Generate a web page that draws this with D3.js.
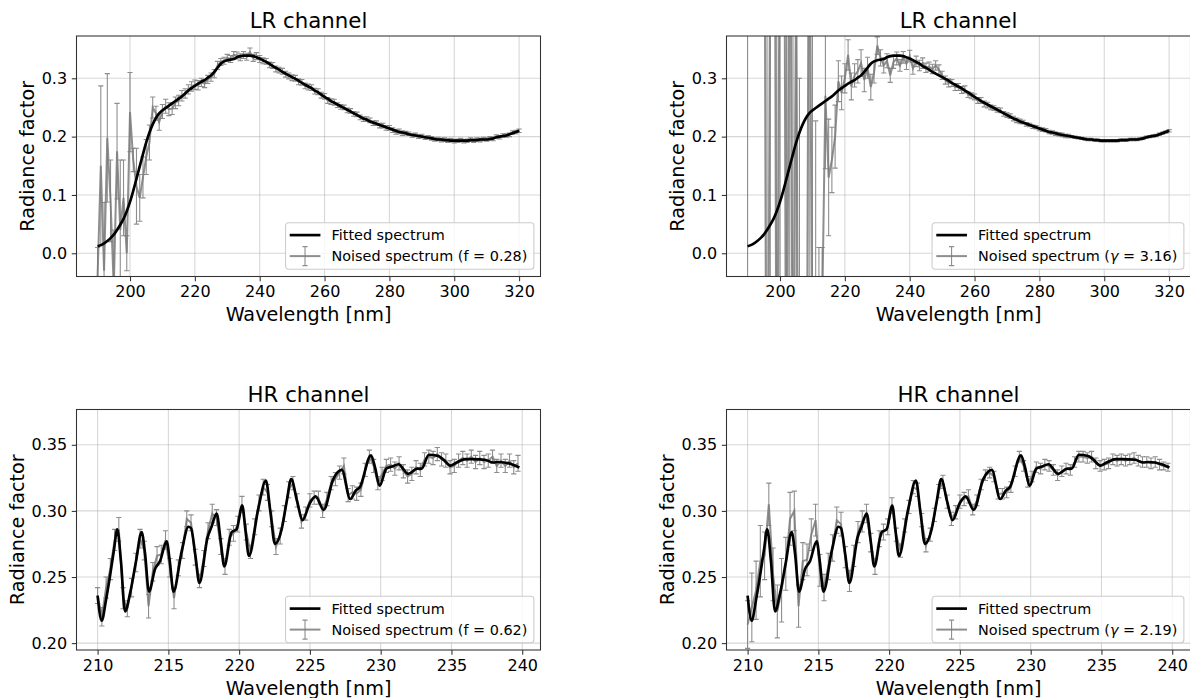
<!DOCTYPE html>
<html>
<head>
<meta charset="utf-8">
<script src="https://cdn.jsdelivr.net/npm/d3@7"></script>
<style>
  body { margin: 0; background: #fff; }
  svg { display: block; font-family: "DejaVu Sans", sans-serif; }
</style>
</head>
<body>
<svg id="fig" width="1190" height="698"></svg>
<script>
// ---------------- LR channel (1 nm sampling, 190–320 nm) ----------------
const lrWavelength = d3.range(190, 321);

const lrFitted = [
  0.012,0.014,0.017,0.021,0.026,0.032,0.040,0.049,0.059,0.072,
  0.088,0.107,0.128,0.149,0.170,0.190,0.207,0.221,0.232,0.240,
  0.245,0.249,0.253,0.257,0.261,0.265,0.269,0.274,0.279,0.283,
  0.287,0.291,0.294,0.297,0.301,0.305,0.311,0.318,0.325,0.329,
  0.331,0.332,0.333,0.336,0.338,0.339,0.339,0.339,0.338,0.336,
  0.334,0.331,0.328,0.325,0.321,0.318,0.315,0.311,0.308,0.305,
  0.302,0.299,0.296,0.292,0.289,0.286,0.283,0.279,0.276,0.272,
  0.268,0.265,0.261,0.258,0.255,0.252,0.249,0.246,0.243,0.240,
  0.237,0.234,0.231,0.229,0.226,0.224,0.222,0.220,0.218,0.216,
  0.214,0.212,0.210,0.208,0.207,0.206,0.204,0.203,0.202,0.201,
  0.200,0.199,0.198,0.197,0.196,0.195,0.195,0.194,0.194,0.193,
  0.193,0.193,0.193,0.193,0.193,0.194,0.194,0.194,0.195,0.195,
  0.195,0.196,0.197,0.199,0.200,0.201,0.202,0.204,0.206,0.208,
  0.210
];

// noised spectrum, f = 0.28
const lrNoisedF = [
  -0.040,0.150,-0.030,0.198,0.090,-0.060,0.175,0.040,0.095,0.000,
  0.242,0.160,0.115,0.095,0.130,0.165,0.190,0.250,0.240,0.225,
  0.243,0.252,0.247,0.248,0.258,0.262,0.270,0.274,0.281,0.286,
  0.289,0.288,0.293,0.291,0.298,0.302,0.308,0.322,0.328,0.330,
  0.335,0.333,0.340,0.339,0.336,0.340,0.337,0.345,0.335,0.338,
  0.333,0.330,0.329,0.323,0.322,0.316,0.314,0.312,0.307,0.304,
  0.301,0.300,0.294,0.293,0.287,0.285,0.284,0.278,0.277,0.271,
  0.269,0.262,0.260,0.259,0.254,0.251,0.250,0.245,0.244,0.239,
  0.238,0.233,0.230,0.230,0.228,0.223,0.223,0.219,0.219,0.215,
  0.215,0.211,0.208,0.209,0.206,0.206,0.205,0.202,0.203,0.200,
  0.201,0.198,0.199,0.197,0.195,0.196,0.194,0.195,0.193,0.194,
  0.192,0.193,0.194,0.192,0.193,0.195,0.193,0.195,0.194,0.196,
  0.195,0.197,0.196,0.200,0.199,0.202,0.202,0.203,0.207,0.208,
  0.210
];
const lrErrF = [
  0.050,0.137,0.117,0.110,0.070,0.100,0.082,0.120,0.065,0.030,
  0.068,0.020,0.065,0.040,0.035,0.030,0.030,0.018,0.012,0.014,
  0.012,0.012,0.011,0.010,0.010,0.009,0.009,0.008,0.008,0.008,
  0.008,0.008,0.007,0.007,0.007,0.007,0.007,0.007,0.006,0.006,
  0.006,0.006,0.006,0.006,0.006,0.006,0.006,0.007,0.006,0.006,
  0.006,0.005,0.005,0.005,0.005,0.005,0.005,0.005,0.005,0.005,
  0.005,0.005,0.005,0.005,0.005,0.005,0.005,0.005,0.005,0.005,
  0.005,0.005,0.005,0.005,0.004,0.004,0.004,0.004,0.004,0.004,
  0.004,0.004,0.004,0.004,0.004,0.004,0.004,0.004,0.004,0.004,
  0.004,0.004,0.004,0.004,0.004,0.003,0.003,0.003,0.003,0.003,
  0.003,0.003,0.003,0.003,0.003,0.003,0.003,0.003,0.003,0.003,
  0.003,0.003,0.003,0.003,0.003,0.003,0.003,0.003,0.003,0.003,
  0.003,0.003,0.003,0.003,0.003,0.003,0.003,0.003,0.003,0.003,
  0.003
];

// noised spectrum, gamma = 3.16
const lrNoisedG = [
  0.90,1.50,2.00,1.20,0.80,1.10,-0.80,0.60,1.40,-0.50,
  0.70,1.30,-0.60,0.90,-0.40,0.50,-0.90,-0.50,-0.70,0.80,
  -0.30,-0.20,-0.15,-0.10,0.270,0.130,0.160,0.200,0.295,0.275,
  0.300,0.340,0.286,0.305,0.312,0.326,0.297,0.318,0.285,0.310,
  0.356,0.335,0.322,0.330,0.305,0.328,0.334,0.322,0.336,0.325,
  0.338,0.317,0.329,0.322,0.326,0.318,0.320,0.316,0.322,0.315,
  0.305,0.297,0.292,0.292,0.285,0.285,0.280,0.281,0.272,0.270,
  0.268,0.262,0.262,0.256,0.254,0.250,0.249,0.246,0.245,0.239,
  0.237,0.235,0.231,0.228,0.226,0.225,0.221,0.220,0.217,0.216,
  0.213,0.212,0.211,0.208,0.207,0.205,0.204,0.203,0.201,0.201,
  0.200,0.199,0.198,0.197,0.196,0.195,0.195,0.194,0.194,0.193,
  0.193,0.193,0.193,0.193,0.193,0.194,0.194,0.194,0.195,0.195,
  0.195,0.196,0.197,0.199,0.200,0.201,0.202,0.204,0.206,0.208,
  0.210
];
const lrErrG = [
  1.20,0.80,1.00,0.70,0.35,0.50,1.50,0.90,0.60,1.00,
  0.80,0.50,1.20,1.00,0.90,1.10,1.20,0.40,0.50,1.00,
  0.90,0.427,0.160,0.110,0.125,0.100,0.056,0.054,0.035,0.029,
  0.025,0.026,0.023,0.020,0.020,0.023,0.020,0.018,0.022,0.018,
  0.015,0.014,0.013,0.012,0.012,0.011,0.011,0.010,0.010,0.010,
  0.010,0.010,0.009,0.009,0.009,0.008,0.008,0.008,0.008,0.008,
  0.007,0.007,0.007,0.006,0.006,0.006,0.006,0.006,0.005,0.005,
  0.005,0.005,0.005,0.005,0.005,0.004,0.004,0.004,0.004,0.004,
  0.004,0.004,0.004,0.004,0.004,0.003,0.003,0.003,0.003,0.003,
  0.003,0.003,0.003,0.003,0.003,0.003,0.003,0.003,0.003,0.003,
  0.002,0.002,0.002,0.002,0.002,0.002,0.002,0.002,0.002,0.002,
  0.002,0.002,0.002,0.002,0.002,0.002,0.002,0.002,0.002,0.002,
  0.002,0.002,0.002,0.002,0.002,0.002,0.002,0.002,0.002,0.002,
  0.002
];

// ---------------- HR channel (210–240 nm) ----------------
const hrFitWavelength = [
  210.0,210.29,210.6,210.88,211.15,211.39,211.65,211.94,212.3,212.7,
  213.11,213.35,213.63,214.06,214.41,214.88,215.1,215.36,215.95,216.42,
  216.6,216.9,217.19,217.77,218.05,218.41,218.7,218.95,219.47,219.82,
  220.22,220.45,220.69,221.35,221.89,222.2,222.53,223.0,223.35,223.68,
  224.1,224.48,225.0,225.4,225.97,226.65,227.25,227.85,228.25,228.53,
  229.31,229.6,229.92,230.4,230.8,231.25,231.94,232.6,232.9,233.4,
  234.06,234.41,234.93,235.4,236.0,236.5,237.36,237.95,238.3,239.25,
  239.8
];
const hrFitted = [
  0.236,0.217,0.233,0.251,0.270,0.286,0.262,0.224,0.238,0.261,
  0.284,0.268,0.239,0.256,0.262,0.277,0.262,0.239,0.270,0.288,
  0.287,0.267,0.2455,0.280,0.288,0.298,0.277,0.258,0.284,0.286,
  0.304,0.285,0.266,0.3015,0.323,0.300,0.275,0.286,0.3065,0.324,
  0.307,0.293,0.306,0.311,0.3008,0.324,0.331,0.309,0.3155,0.318,
  0.342,0.333,0.319,0.332,0.3335,0.3353,0.328,0.332,0.332,0.3425,
  0.3415,0.339,0.3343,0.3368,0.3392,0.3392,0.3387,0.3366,0.337,0.3353,
  0.3328
];

// noised samples every 0.3 nm
const hrWavelength = d3.range(100).map(i => Math.round((210 + 0.3 * i) * 10) / 10);

// noised spectrum, f = 0.62
const hrNoisedF = [
  0.236,0.220,0.242,0.256,0.278,0.286,0.234,0.226,0.242,0.261,
  0.279,0.270,0.228,0.254,0.266,0.267,0.278,0.257,0.234,0.257,
  0.270,0.294,0.291,0.265,0.247,0.264,0.285,0.298,0.295,0.273,
  0.258,0.280,0.283,0.290,0.305,0.284,0.269,0.288,0.306,0.318,
  0.314,0.294,0.273,0.281,0.298,0.316,0.321,0.308,0.292,0.298,
  0.308,0.310,0.310,0.300,0.309,0.321,0.324,0.329,0.334,0.312,
  0.314,0.313,0.316,0.331,0.341,0.334,0.321,0.328,0.334,0.335,
  0.332,0.336,0.330,0.326,0.328,0.333,0.331,0.339,0.341,0.340,
  0.343,0.339,0.338,0.333,0.334,0.338,0.340,0.338,0.341,0.337,
  0.340,0.337,0.338,0.341,0.334,0.338,0.334,0.338,0.333,0.336
];
const hrErrF = [
  0.006,0.007,0.008,0.008,0.008,0.009,0.008,0.006,0.007,0.007,
  0.007,0.007,0.009,0.007,0.007,0.007,0.007,0.007,0.008,0.006,
  0.006,0.006,0.006,0.006,0.005,0.006,0.006,0.007,0.006,0.006,
  0.006,0.006,0.006,0.006,0.006,0.006,0.005,0.006,0.006,0.006,
  0.006,0.006,0.006,0.006,0.006,0.006,0.005,0.005,0.005,0.005,
  0.005,0.005,0.005,0.005,0.005,0.005,0.005,0.005,0.006,0.005,
  0.005,0.005,0.005,0.005,0.005,0.005,0.005,0.005,0.005,0.005,
  0.005,0.005,0.005,0.005,0.005,0.005,0.005,0.005,0.005,0.005,
  0.005,0.005,0.005,0.005,0.005,0.005,0.005,0.005,0.005,0.005,
  0.005,0.005,0.005,0.005,0.005,0.005,0.005,0.005,0.005,0.006
];

// noised spectrum, gamma = 2.19
const hrNoisedG = [
  0.214,0.227,0.240,0.262,0.266,0.305,0.252,0.224,0.240,0.260,
  0.294,0.300,0.228,0.262,0.263,0.282,0.293,0.255,0.242,0.258,
  0.272,0.293,0.290,0.265,0.247,0.266,0.284,0.292,0.298,0.276,
  0.258,0.279,0.284,0.288,0.304,0.282,0.270,0.289,0.303,0.318,
  0.316,0.293,0.274,0.282,0.297,0.315,0.322,0.307,0.294,0.299,
  0.307,0.309,0.311,0.301,0.308,0.320,0.327,0.329,0.326,0.313,
  0.313,0.314,0.318,0.330,0.341,0.334,0.322,0.326,0.333,0.332,
  0.335,0.334,0.331,0.327,0.330,0.332,0.331,0.337,0.341,0.341,
  0.340,0.341,0.336,0.334,0.335,0.336,0.339,0.338,0.339,0.338,
  0.339,0.340,0.338,0.337,0.337,0.336,0.337,0.335,0.334,0.333
];
const hrErrG = [
  0.018,0.026,0.022,0.027,0.018,0.016,0.020,0.020,0.024,0.020,
  0.020,0.015,0.016,0.014,0.012,0.012,0.012,0.012,0.010,0.010,
  0.010,0.010,0.009,0.008,0.008,0.008,0.008,0.008,0.007,0.007,
  0.006,0.006,0.006,0.006,0.006,0.005,0.005,0.005,0.005,0.005,
  0.005,0.005,0.005,0.005,0.005,0.005,0.005,0.005,0.005,0.005,
  0.005,0.005,0.005,0.004,0.004,0.004,0.004,0.004,0.004,0.004,
  0.004,0.004,0.004,0.004,0.004,0.004,0.004,0.004,0.004,0.004,
  0.004,0.004,0.004,0.004,0.004,0.004,0.004,0.004,0.004,0.004,
  0.004,0.004,0.004,0.004,0.004,0.004,0.004,0.004,0.004,0.004,
  0.004,0.004,0.004,0.004,0.004,0.004,0.004,0.004,0.003,0.003
];

// ---------------- ticks ----------------
const lrTicksX = [200, 220, 240, 260, 280, 300, 320];
const lrTicksY = [0.0, 0.1, 0.2, 0.3];
const hrTicksX = [210, 215, 220, 225, 230, 235, 240];
const hrTicksY = [0.20, 0.25, 0.30, 0.35];

// ---------------- layout ----------------
const svg = d3.select("#fig");
const W = 464, H = 240.5;
const TICK = 4.7, PAD = 4.7;
const FIT_COLOR = "#000", NOISE_COLOR = "#7a7a7a";

const panels = [
  { left: 76.5,  top: 36,    title: "LR channel", xDomain: [183.5, 326.6], yDomain: [-0.0398, 0.3725],
    xTicks: lrTicksX, yTicks: lrTicksY, yFmt: d3.format(".1f"),
    fitX: lrWavelength, fitY: lrFitted, nX: lrWavelength, nY: lrNoisedF, nE: lrErrF,
    param: "f", paramValue: "0.28" },
  { left: 726.5, top: 36,    title: "LR channel", xDomain: [183.5, 326.6], yDomain: [-0.0398, 0.3725],
    xTicks: lrTicksX, yTicks: lrTicksY, yFmt: d3.format(".1f"),
    fitX: lrWavelength, fitY: lrFitted, nX: lrWavelength, nY: lrNoisedG, nE: lrErrG,
    param: "γ", paramValue: "3.16" },
  { left: 76.5,  top: 409.5, title: "HR channel", xDomain: [208.51, 241.29], yDomain: [0.1948, 0.3767],
    xTicks: hrTicksX, yTicks: hrTicksY, yFmt: d3.format(".2f"),
    fitX: hrFitWavelength, fitY: hrFitted, nX: hrWavelength, nY: hrNoisedF, nE: hrErrF,
    param: "f", paramValue: "0.62" },
  { left: 726.5, top: 409.5, title: "HR channel", xDomain: [208.51, 241.29], yDomain: [0.1948, 0.3767],
    xTicks: hrTicksX, yTicks: hrTicksY, yFmt: d3.format(".2f"),
    fitX: hrFitWavelength, fitY: hrFitted, nX: hrWavelength, nY: hrNoisedG, nE: hrErrG,
    param: "γ", paramValue: "2.19" }
];

const defs = svg.append("defs");

panels.forEach((p, k) => {
  const g = svg.append("g").attr("transform", `translate(${p.left},${p.top})`);
  const x = d3.scaleLinear().domain(p.xDomain).range([0, W]);
  const y = d3.scaleLinear().domain(p.yDomain).range([H, 0]);

  // grid
  const grid = g.append("g").attr("stroke", "#b0b0b0").attr("stroke-opacity", 0.5).attr("stroke-width", 1.07);
  grid.selectAll("line.gx").data(p.xTicks).join("line").attr("class", "gx")
    .attr("x1", d => x(d)).attr("x2", d => x(d)).attr("y1", 0).attr("y2", H);
  grid.selectAll("line.gy").data(p.yTicks).join("line").attr("class", "gy")
    .attr("x1", 0).attr("x2", W).attr("y1", d => y(d)).attr("y2", d => y(d));

  // clip region of the axes
  const clipId = "clip" + k;
  defs.append("clipPath").attr("id", clipId).append("rect").attr("width", W).attr("height", H);
  const plot = g.append("g").attr("clip-path", `url(#${clipId})`);

  const pts = p.nX.map((w, i) => ({ w, v: p.nY[i], e: p.nE[i] }));
  const cap = 2.6;

  // error bars
  plot.append("g")
    .attr("stroke", NOISE_COLOR).attr("stroke-opacity", 0.85).attr("stroke-width", 1.1).attr("fill", "none")
    .selectAll("path").data(pts).join("path")
    .attr("d", d => {
      const xx = x(d.w), y1 = y(d.v - d.e), y2 = y(d.v + d.e);
      return `M${xx},${y1}V${y2}M${xx - cap},${y1}h${2 * cap}M${xx - cap},${y2}h${2 * cap}`;
    });

  // noised spectrum
  plot.append("path").datum(pts)
    .attr("fill", "none").attr("stroke", NOISE_COLOR).attr("stroke-opacity", 0.85).attr("stroke-width", 2)
    .attr("d", d3.line().x(d => x(d.w)).y(d => y(d.v)));

  // fitted spectrum
  const fit = p.fitX.map((w, i) => ({ w, v: p.fitY[i] }));
  plot.append("path").datum(fit)
    .attr("fill", "none").attr("stroke", FIT_COLOR).attr("stroke-width", 2.67)
    .attr("stroke-linejoin", "round")
    .attr("d", d3.line().curve(d3.curveMonotoneX).x(d => x(d.w)).y(d => y(d.v)));

  // axes
  const xAxis = g.append("g").attr("transform", `translate(0,${H})`)
    .call(d3.axisBottom(x).tickValues(p.xTicks).tickFormat(d3.format("d")).tickSize(TICK).tickPadding(PAD));
  const yAxis = g.append("g")
    .call(d3.axisLeft(y).tickValues(p.yTicks).tickFormat(p.yFmt).tickSize(TICK).tickPadding(PAD));
  [xAxis, yAxis].forEach(a => {
    a.select(".domain").remove();
    a.selectAll(".tick line").attr("stroke", "#333").attr("stroke-width", 1.07);
    a.selectAll(".tick text").attr("fill", "#000").style("font-size", "16px").style("font-family", "DejaVu Sans");
  });

  // spines
  g.append("rect").attr("width", W).attr("height", H)
    .attr("fill", "none").attr("stroke", "#333").attr("stroke-width", 1.07);

  // title and axis labels
  g.append("text").attr("x", W / 2).attr("y", -8).attr("text-anchor", "middle")
    .style("font-size", "21.3px").text(p.title);
  g.append("text").attr("x", W / 2).attr("y", H + 44.5).attr("text-anchor", "middle")
    .style("font-size", "19.2px").text("Wavelength [nm]");

  let tw = 0;
  yAxis.selectAll(".tick text").each(function () { tw = Math.max(tw, this.getBBox().width); });
  const yl = -(TICK + PAD + tw + 5.3 + 2.2);
  g.append("text").attr("transform", `translate(${yl},${H / 2}) rotate(-90)`)
    .attr("text-anchor", "middle").style("font-size", "19.2px").text("Radiance factor");

  // legend (lower right)
  const lg = g.append("g");
  const box = lg.append("rect").attr("rx", 3).attr("ry", 3)
    .attr("fill", "#fff").attr("fill-opacity", 0.8).attr("stroke", "#cccccc").attr("stroke-width", 1.07);
  const t1 = lg.append("text").attr("x", 46).attr("y", 17.3).style("font-size", "14.4px").text("Fitted spectrum");
  const t2 = lg.append("text").attr("x", 46).attr("y", 38.3).style("font-size", "14.4px");
  t2.append("tspan").text("Noised spectrum (");
  t2.append("tspan").style("font-style", p.param === "γ" ? "italic" : "normal").text(p.param);
  t2.append("tspan").text(" = " + p.paramValue + ")");
  const textW = Math.max(t1.node().getComputedTextLength(), t2.node().getComputedTextLength());
  const boxW = 46 + textW + 6.5, boxH = 46.5;
  box.attr("width", boxW).attr("height", boxH);
  lg.attr("transform", `translate(${W - 6.6 - boxW},${H - 7.2 - boxH})`);

  lg.append("line").attr("x1", 4.2).attr("x2", 34.9).attr("y1", 12.3).attr("y2", 12.3)
    .attr("stroke", FIT_COLOR).attr("stroke-width", 2.67);
  lg.append("line").attr("x1", 4.2).attr("x2", 34.9).attr("y1", 33.3).attr("y2", 33.3)
    .attr("stroke", NOISE_COLOR).attr("stroke-opacity", 0.85).attr("stroke-width", 2);
  lg.append("path").attr("d", `M19.5,23.8V42.8M${19.5 - cap},23.8h${2 * cap}M${19.5 - cap},42.8h${2 * cap}`)
    .attr("stroke", NOISE_COLOR).attr("stroke-opacity", 0.85).attr("stroke-width", 1.1).attr("fill", "none");
});
</script>
</body>
</html>
